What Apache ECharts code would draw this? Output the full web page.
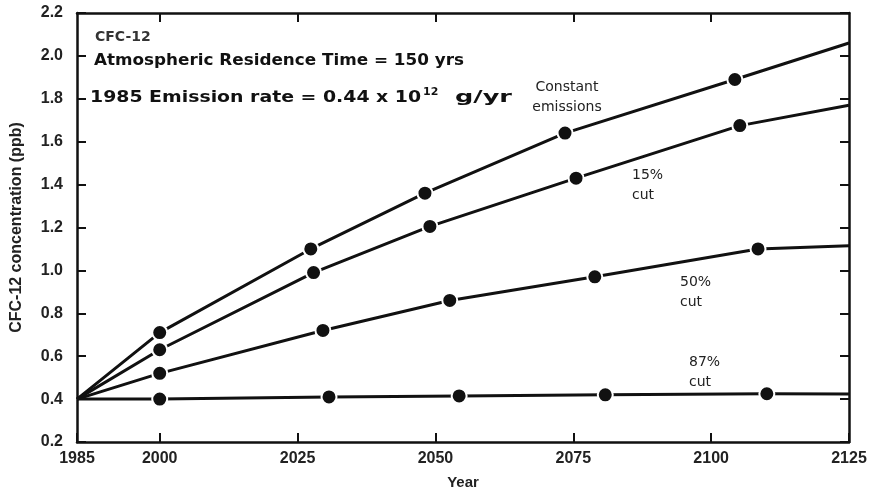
<!DOCTYPE html>
<html>
<head>
<meta charset="utf-8">
<script src="https://cdn.jsdelivr.net/npm/echarts@6/dist/echarts.min.js"></script>
<style>
html,body{margin:0;padding:0;background:#fff;}
#chart{width:875px;height:496px;}
</style>
</head>
<body>
<div id="chart"></div>
<script>
// ---- data ----
const xTickYears = [1985, 2000, 2025, 2050, 2075, 2100, 2125];
const topTickYears = [2000, 2025, 2050, 2075, 2100];

// first and last point of each curve are curve ends (no marker); others carry a dot
const constYears = [1985, 2000, 2027.4, 2048.1, 2073.5, 2104.3, 2125];
const constVals  = [0.40, 0.71, 1.10, 1.36, 1.64, 1.89, 2.06];

const cut15Years = [1985, 2000, 2027.9, 2049.0, 2075.5, 2105.2, 2125];
const cut15Vals  = [0.40, 0.63, 0.99, 1.205, 1.43, 1.675, 1.77];

const cut50Years = [1985, 2000, 2029.6, 2052.6, 2078.9, 2108.5, 2125];
const cut50Vals  = [0.40, 0.52, 0.72, 0.86, 0.97, 1.10, 1.115];

const cut87Years = [1985, 2000, 2030.7, 2054.3, 2080.8, 2110.1, 2125];
const cut87Vals  = [0.40, 0.40, 0.41, 0.415, 0.42, 0.425, 0.424];

const seriesNames = ['Constant emissions', '15% cut', '50% cut', '87% cut'];

function buildData(years, vals) {
  return years.map((y, i) => {
    const item = { value: [y, vals[i]] };
    if (i === 0 || i === years.length - 1) item.symbol = 'none';
    return item;
  });
}

function curve(name, years, vals) {
  return {
    name: name,
    type: 'line',
    data: buildData(years, vals),
    smooth: false,
    symbol: 'circle',
    symbolSize: 15,
    showAllSymbol: true,
    lineStyle: { color: '#111', width: 3, join: 'round' },
    itemStyle: { color: '#111', borderColor: '#fff', borderWidth: 2 },
    emphasis: { disabled: true },
    z: 3
  };
}

const chart = echarts.init(document.getElementById('chart'), null, { renderer: 'canvas' });

const axisLineStyle = { color: '#111', width: 2.5 };
const tickLabelStyle = { color: '#222', fontFamily: 'Liberation Sans', fontSize: 16, fontWeight: 'bold' };

const option = {
  animation: false,
  backgroundColor: '#fff',
  grid: { left: 77, right: 26, top: 13, bottom: 54 },
  xAxis: [
    {
      type: 'value', position: 'bottom', min: 1985, max: 2125,
      name: 'Year', nameLocation: 'middle', nameGap: 33,
      nameTextStyle: { color: '#222', fontFamily: 'Liberation Sans', fontSize: 15, fontWeight: 'bold' },
      axisLine: { show: true, lineStyle: axisLineStyle },
      axisTick: { show: true, inside: true, length: 9, customValues: xTickYears, lineStyle: { color: '#111', width: 2 } },
      axisLabel: { customValues: xTickYears, margin: 9, formatter: v => String(Math.round(v)), ...tickLabelStyle },
      splitLine: { show: false }
    },
    {
      type: 'value', position: 'top', min: 1985, max: 2125,
      axisLine: { show: true, lineStyle: axisLineStyle },
      axisTick: { show: true, inside: true, length: 9, customValues: topTickYears, lineStyle: { color: '#111', width: 2 } },
      axisLabel: { show: false },
      splitLine: { show: false }
    }
  ],
  yAxis: [
    {
      type: 'value', position: 'left', min: 0.2, max: 2.2, interval: 0.2,
      name: 'CFC-12 concentration (ppb)', nameLocation: 'middle', nameGap: 52,
      nameTextStyle: { color: '#222', fontFamily: 'Liberation Sans', fontSize: 16, fontWeight: 'bold' },
      axisLine: { show: true, lineStyle: axisLineStyle },
      axisTick: { show: true, inside: true, length: 9, lineStyle: { color: '#111', width: 2 } },
      axisLabel: { margin: 14, formatter: v => v.toFixed(1), ...tickLabelStyle },
      splitLine: { show: false }
    },
    {
      type: 'value', position: 'right', min: 0.2, max: 2.2, interval: 0.2,
      axisLine: { show: true, lineStyle: axisLineStyle },
      axisTick: { show: true, inside: true, length: 9, lineStyle: { color: '#111', width: 2 } },
      axisLabel: { show: false },
      splitLine: { show: false }
    }
  ],
  series: [
    curve(seriesNames[0], constYears, constVals),
    curve(seriesNames[1], cut15Years, cut15Vals),
    curve(seriesNames[2], cut50Years, cut50Vals),
    curve(seriesNames[3], cut87Years, cut87Vals)
  ],
  graphic: [
    { type: 'text', x: 95, y: 37, style: { text: 'CFC-12', font: 'bold 14px "DejaVu Sans"', fill: '#333', textVerticalAlign: 'middle' } },
    { type: 'text', x: 94, y: 61, scaleX: 1.05, style: { text: 'Atmospheric Residence Time = 150 yrs', font: 'bold 16px "DejaVu Sans"', fill: '#111', textVerticalAlign: 'middle' } },
    { type: 'text', x: 90, y: 98, scaleX: 1.18, style: { text: '1985 Emission rate = 0.44 x 10', font: 'bold 16px "DejaVu Sans"', fill: '#111', textVerticalAlign: 'middle' } },
    { type: 'text', x: 423, y: 92, style: { text: '12', font: 'bold 11px "DejaVu Sans"', fill: '#111', textVerticalAlign: 'middle' } },
    { type: 'text', x: 455, y: 98, scaleX: 1.6, style: { text: 'g/yr', font: 'bold 16px "DejaVu Sans"', fill: '#111', textVerticalAlign: 'middle' } },
    { type: 'text', x: 567, y: 97, style: { text: 'Constant\nemissions', font: '14px "DejaVu Sans"', fill: '#222', textAlign: 'center', textVerticalAlign: 'middle', lineHeight: 20 } },
    { type: 'text', x: 632, y: 185, style: { text: '15%\ncut', font: '14px "DejaVu Sans"', fill: '#222', textVerticalAlign: 'middle', lineHeight: 20 } },
    { type: 'text', x: 680, y: 292, style: { text: '50%\ncut', font: '14px "DejaVu Sans"', fill: '#222', textVerticalAlign: 'middle', lineHeight: 20 } },
    { type: 'text', x: 689, y: 372, style: { text: '87%\ncut', font: '14px "DejaVu Sans"', fill: '#222', textVerticalAlign: 'middle', lineHeight: 20 } }
  ]
};

chart.setOption(option);
</script>
</body>
</html>
